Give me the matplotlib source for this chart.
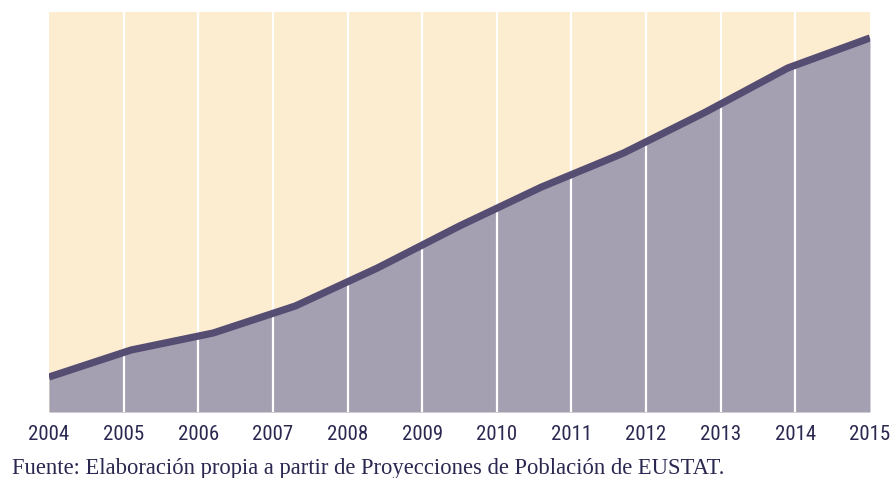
import matplotlib
matplotlib.use("Agg")
import matplotlib.pyplot as plt
import numpy as np

years = [2004, 2005, 2006, 2007, 2008, 2009, 2010, 2011, 2012, 2013, 2014, 2015]
# series sampled in 11 evenly spaced steps across the span of the year axis
values = [35, 62, 79, 106, 144, 186, 225, 259, 300, 344, 374]
source = "Fuente: Elaboración propia a partir de Proyecciones de Población de EUSTAT."

bg = "#fcedd0"
fill_col = "#a49fb1"
line_col = "#564d73"
text_col = "#2a2850"

fig = plt.figure(figsize=(8.9, 4.78), dpi=100)
ax = fig.add_axes([0.055, 0.138, 0.9225, 0.837])
ax.set_facecolor(bg)

x = np.linspace(years[0], years[-1], len(values))
ax.fill_between(x, 0, values, color=fill_col, lw=0, zorder=1)
for yr in years[1:-1]:
    ax.axvline(yr, color="white", lw=1.6, zorder=2)
ax.plot(x, values, color=line_col, lw=5.2, solid_capstyle="butt", zorder=3)

ax.set_xlim(years[0], years[-1])
ax.set_ylim(0, 400)
ax.set_yticks([])
ax.set_xticks(years)
ax.set_xticklabels([str(y) for y in years], fontsize=15,
                   family=["Roboto Condensed", "DejaVu Sans"], color=text_col)
for lab in ax.get_xticklabels():
    lab.set_verticalalignment("baseline")
ax.tick_params(axis="x", length=0, pad=20)
for s in ax.spines.values():
    s.set_visible(False)

fig.text(0.013, 0.009, source, fontsize=16.3, family=["Liberation Serif", "DejaVu Serif"],
         color=text_col, ha="left", va="baseline")

fig.savefig("out.png", dpi=100)
